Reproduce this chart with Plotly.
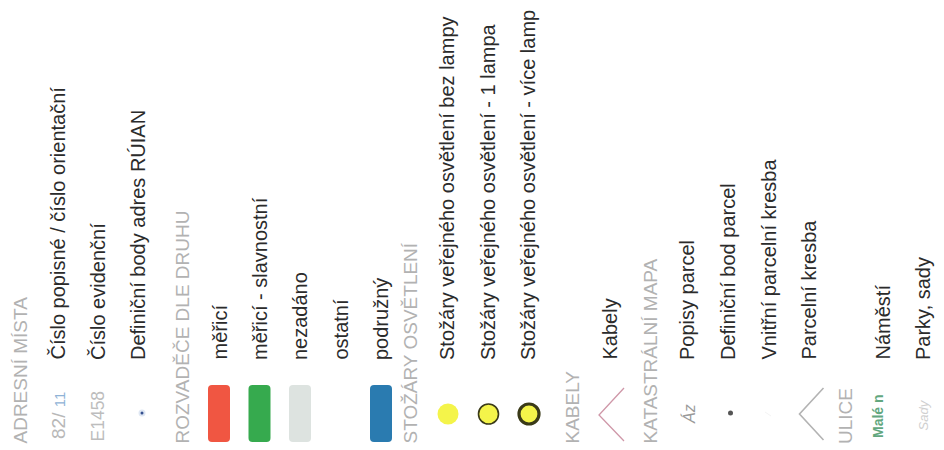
import plotly.graph_objects as go

# legend content
section_titles = ["ADRESNÍ MÍSTA", "ROZVADĚČE DLE DRUHU", "STOŽÁRY OSVĚTLENÍ",
                  "KABELY", "KATASTRÁLNÍ MAPA", "ULICE"]

adresni_labels = ["Číslo popisné / číslo orientační", "Číslo evidenční",
                  "Definiční body adres RÚIAN"]
rozvadece_labels = ["měřicí", "měřicí - slavnostní", "nezadáno", "ostatní", "podružný"]
rozvadece_colors = ["#f05642", "#36aa4e", "#dde3e0", "#ffffff", "#2a7bb0"]
stozary_labels = ["Stožáry veřejného osvětlení bez lampy",
                  "Stožáry veřejného osvětlení - 1 lampa",
                  "Stožáry veřejného osvětlení - více lamp"]
stozary_outline = [0, 1.6, 3.2]
kabely_labels = ["Kabely"]
katastr_labels = ["Popisy parcel", "Definiční bod parcel",
                  "Vnitřní parcelní kresba", "Parcelní kresba"]
ulice_labels = ["Náměstí", "Parky, sady"]

sections = [adresni_labels, rozvadece_labels, stozary_labels,
            kabely_labels, katastr_labels, ulice_labels]

W, H = 944, 450
PAGE_PAD = 8  # default body margin of the html page
HEAD_X = [20, 182, 410, 572, 650, 845]
HEAD_TO_ITEM, ITEM_STEP = 37, 40.5
TEXT_Y, HEAD_Y, ICON_Y = 362, 446, 414

# column positions along the (rotated) legend
item_x = []
for hx, labels in zip(HEAD_X, sections):
    item_x.append([hx + HEAD_TO_ITEM + j * ITEM_STEP for j in range(len(labels))])

fig = go.Figure()
annotations = []
shapes = []

font = "Liberation Sans, Arial, sans-serif"

for hx, title in zip(HEAD_X, section_titles):
    annotations.append(dict(x=hx, y=HEAD_Y, text=title, textangle=-90, showarrow=False,
                            xanchor="center", yanchor="bottom",
                            font=dict(size=19, color="#b2b2b2", family=font)))

for cols, labels in zip(item_x, sections):
    for cx, lab in zip(cols, labels):
        annotations.append(dict(x=cx, y=TEXT_Y, text=lab, textangle=-90, showarrow=False,
                                xanchor="center", yanchor="bottom",
                                font=dict(size=20, color="#2b2b2b", family=font)))

# adresni mista icons
ax = item_x[0]
annotations.append(dict(x=ax[0] + 1, y=ICON_Y + 2, text='82/ <span style="color:#8fb3d6;font-size:15px">11</span>',
                        textangle=-90, showarrow=False, xanchor="center", yanchor="middle",
                        font=dict(size=19, color="#b8b8b8", family=font)))
annotations.append(dict(x=ax[1], y=ICON_Y + 2, text="E1458", textangle=-90, showarrow=False,
                        xanchor="center", yanchor="middle",
                        font=dict(size=17.5, color="#bdbdbd", family=font)))
fig.add_trace(go.Scatter(x=[ax[2] + 4], y=[ICON_Y - 1], mode="markers",
                         marker=dict(size=5, color="#34508f",
                                     line=dict(width=2, color="#dfe7f3")),
                         hoverinfo="skip"))

# rozvadece rounded boxes
def rounded(x0, y0, x1, y1, r):
    return (f"M{x0 + r},{y0} L{x1 - r},{y0} Q{x1},{y0} {x1},{y0 + r} "
            f"L{x1},{y1 - r} Q{x1},{y1} {x1 - r},{y1} L{x0 + r},{y1} "
            f"Q{x0},{y1} {x0},{y1 - r} L{x0},{y0 + r} Q{x0},{y0} {x0 + r},{y0} Z")

for cx, col in zip(item_x[1], rozvadece_colors):
    shapes.append(dict(type="path", path=rounded(cx - 11, 385, cx + 11, 442, 4),
                       fillcolor=col, line=dict(width=0), layer="above"))

# stozary circles
for cx, lw in zip(item_x[2], stozary_outline):
    fig.add_trace(go.Scatter(x=[cx + 1], y=[ICON_Y], mode="markers",
                             marker=dict(size=20 if lw else 21, color="#f4f44a",
                                         line=dict(width=lw, color="#3a3a18")),
                             hoverinfo="skip"))

# kabely line
kx = item_x[3][0] + 2
fig.add_trace(go.Scatter(x=[kx + 13, kx - 12, kx + 13], y=[388, 415, 441], mode="lines",
                         line=dict(color="#cf97a8", width=1.3), hoverinfo="skip"))

# katastralni mapa icons
kx4 = item_x[4]
annotations.append(dict(x=kx4[0] + 2, y=ICON_Y, text="<i>Áz</i>", textangle=-90, showarrow=False,
                        xanchor="center", yanchor="middle",
                        font=dict(size=16, color="#9a9a9a", family=font)))
fig.add_trace(go.Scatter(x=[kx4[1] + 3], y=[ICON_Y - 1], mode="markers",
                         marker=dict(size=5, color="#555555"), hoverinfo="skip"))
fig.add_trace(go.Scatter(x=[kx4[2] - 3, kx4[2] + 3], y=[ICON_Y - 2, ICON_Y + 2], mode="lines",
                         line=dict(color="#f4f4f4", width=1), hoverinfo="skip"))
px = kx4[3] + 3
fig.add_trace(go.Scatter(x=[px + 12, px - 12, px + 12], y=[388, 414, 440], mode="lines",
                         line=dict(color="#b3b3b3", width=1.6), hoverinfo="skip"))

# ulice icons
ux = item_x[5]
annotations.append(dict(x=ux[0] - 4, y=ICON_Y + 2, text="<b>Malé n</b>", textangle=-90,
                        showarrow=False, xanchor="center", yanchor="middle",
                        font=dict(size=14, color="#62a77e", family=font)))
annotations.append(dict(x=ux[1], y=ICON_Y + 1, text="<i>Sady</i>", textangle=-90,
                        showarrow=False, xanchor="center", yanchor="middle",
                        font=dict(size=13, color="#d0d0d0", family=font)))

# axis ranges offset by the page padding so data units equal window pixels
fig.update_layout(
    width=W, height=H,
    margin=dict(l=0, r=0, t=0, b=0),
    paper_bgcolor="white", plot_bgcolor="white",
    showlegend=False,
    xaxis=dict(range=[PAGE_PAD, W + PAGE_PAD], visible=False, fixedrange=True),
    yaxis=dict(range=[H + PAGE_PAD, PAGE_PAD], visible=False, fixedrange=True),
    annotations=annotations,
    shapes=shapes,
)

fig.write_html("out.html")
